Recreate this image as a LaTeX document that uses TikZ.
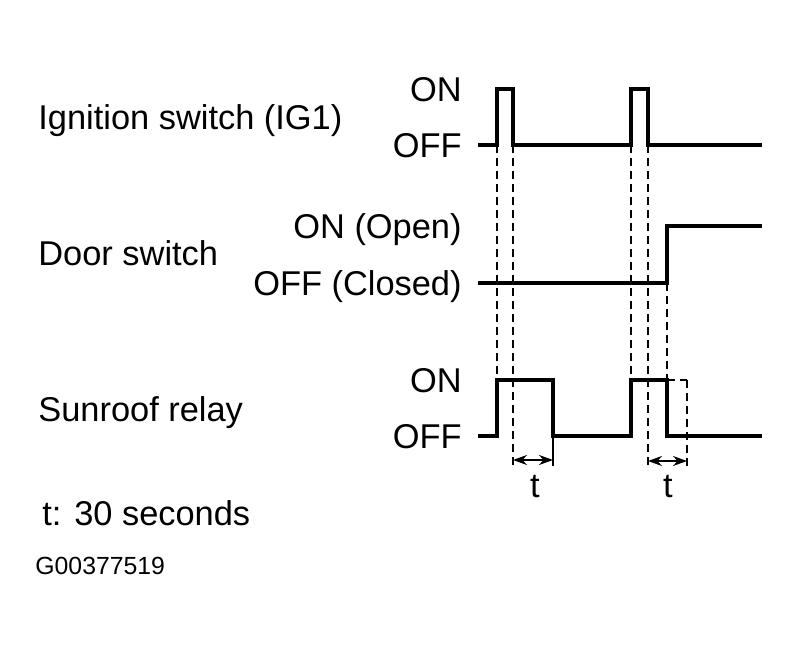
\documentclass[tikz,border=0pt]{standalone}
\usepackage{fontspec}
\setmainfont{Liberation Sans}
\usetikzlibrary{arrows.meta}
\begin{document}
\begin{tikzpicture}[x=0.5pt,y=-0.5pt,font=\fontsize{17.2}{20}\selectfont,
  wave/.style={line width=2pt,line join=miter},
  guide/.style={line width=1pt,dash pattern=on 4pt off 2.5pt},
  level/.style={anchor=base east,inner sep=0pt},
  signame/.style={anchor=base west,inner sep=0pt}]

\useasboundingbox (0,0) rectangle (800,648);

% Ignition switch (IG1)
\node[signame] (ig) at (38,129) {Ignition switch (IG1)};
\node[level] (igon) at (462,101) {ON};
\node[level] (igoff) at (462,157) {OFF};
\draw[wave] (478,145) -- (497,145) -- (497,89) -- (513,89) -- (513,145)
  -- (631,145) -- (631,89) -- (648,89) -- (648,145) -- (762,145);

% Door switch
\node[signame] (door) at (38,265) {Door switch};
\node[level] (dooron) at (462,238) {ON (Open)};
\node[level] (dooroff) at (462,295) {OFF (Closed)};
\draw[wave] (478,283) -- (667,283) -- (667,226) -- (762,226);

% Sunroof relay
\node[signame] (relay) at (38,422) {Sunroof relay};
\node[level] (relon) at (462,392) {ON};
\node[level] (reloff) at (462,448) {OFF};
\draw[wave] (478,436) -- (497,436) -- (497,380) -- (553,380) -- (553,436)
  -- (631,436) -- (631,380) -- (667,380) -- (667,436) -- (762,436);

% guides
\draw[guide] (497,145) -- (497,380);
\draw[guide] (513,145) -- (513,466);
\draw[guide] (631,145) -- (631,380);
\draw[guide] (648,145) -- (648,470);
\draw[guide] (667,283) -- (667,380);
\draw[guide] (667,380) -- (687,380);
\draw[guide] (687,380) -- (687,470);
\draw[line width=1pt] (553,436) -- (553,466);

% delay t
\coordinate (t1a) at (513,460);
\coordinate (t1b) at (553,460);
\coordinate (t2a) at (648,461);
\coordinate (t2b) at (687,461);
\draw[line width=1pt,{Stealth[length=7pt,width=5pt]}-{Stealth[length=7pt,width=5pt]}] (t1a) -- (t1b);
\draw[line width=1pt,{Stealth[length=7pt,width=5pt]}-{Stealth[length=7pt,width=5pt]}] (t2a) -- (t2b);
\node (t1) at (535,487) {t};
\node (t2) at (668,487) {t};

\node[signame] (note) at (42,525) {t: 30 seconds};
\node[signame,font=\fontsize{12.4}{14}\selectfont] (code) at (35,574) {G00377519};

\end{tikzpicture}
\end{document}
